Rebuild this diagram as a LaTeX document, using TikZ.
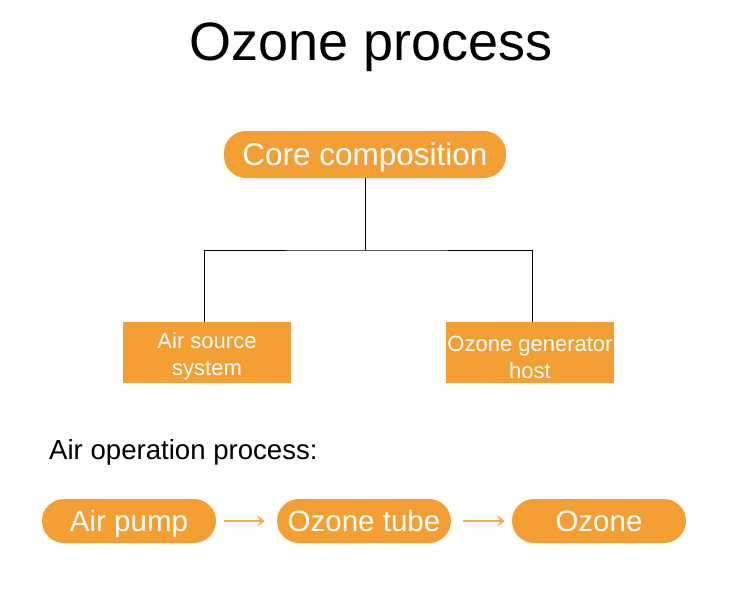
\documentclass[tikz,border=0pt]{standalone}
\usepackage{fontspec}
\setmainfont{Liberation Sans}
\usetikzlibrary{arrows.meta}
\definecolor{orng}{HTML}{F39F33}
\begin{document}
\begin{tikzpicture}[x=1pt,y=-1pt,
  pill/.style={fill=orng,rounded corners=22pt,text=white,inner sep=0pt,text depth=0pt},
  rect/.style={fill=orng,text=white,inner sep=0pt,minimum width=168pt,minimum height=61pt,font=\fontsize{22}{27}\selectfont},
  conn/.style={draw=black,line width=0.8pt},
  flow/.style={draw=orng!85,line width=1.1pt,-{Stealth[length=8pt,width=12pt,inset=3.5pt]}}]
\useasboundingbox (0,0) rectangle (750,589);
\node[text height=38.7pt,text depth=0pt,font=\fontsize{54}{58}\selectfont] (title) at (371,41) {Ozone process};
\node[pill,text height=22.6pt,minimum width=282pt,minimum height=47pt,font=\fontsize{31.5}{36}\selectfont] (core) at (365,154.5) {Core composition};
\node[rect] (air) at (207,352.5) {\raisebox{-9.5pt}[0pt][0pt]{\begin{tabular}{@{}c@{}}Air source\\system\end{tabular}}};
\node[rect] (gen) at (530,352.5) {\raisebox{-12.5pt}[0pt][0pt]{\begin{tabular}{@{}c@{}}Ozone generator\\host\end{tabular}}};
\coordinate (j) at (365,250);
\draw[conn] (core.south) -- (j);
\draw[conn] (air.north -| 204,0) |- (j) -| (gen.north -| 532,0);
\node[anchor=base west,inner sep=0pt,font=\fontsize{27.6}{30}\selectfont] (lbl) at (49,459) {Air operation process:};
\node[pill,text height=21.1pt,minimum width=174pt,minimum height=44pt,font=\fontsize{29.5}{33}\selectfont] (pump) at (129,521) {Air pump};
\node[pill,text height=21.1pt,minimum width=174pt,minimum height=44pt,font=\fontsize{29.5}{33}\selectfont] (tube) at (364,521) {Ozone tube};
\node[pill,text height=21.1pt,minimum width=174pt,minimum height=44pt,font=\fontsize{29.5}{33}\selectfont] (ozone) at (599,521) {Ozone};
\draw[flow] ([xshift=8pt]pump.east) -- ([xshift=-12pt]tube.west);
\draw[flow] ([xshift=12pt]tube.east) -- ([xshift=-7pt]ozone.west);
\end{tikzpicture}
\end{document}
